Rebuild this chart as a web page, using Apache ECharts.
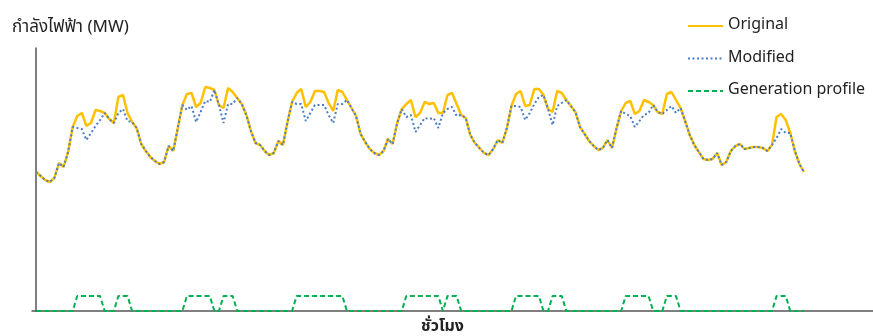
<!DOCTYPE html>
<html>
<head>
<meta charset="utf-8">
<script src="https://cdn.jsdelivr.net/npm/echarts@6/dist/echarts.min.js"></script>
<style>
html,body{margin:0;padding:0;background:#fff;}
#chart{width:873px;height:336px;}
</style>
</head>
<body>
<div id="chart"></div>
<script>
// Hour index (one week, hourly)
const hours = Array.from({length: 169}, (_, i) => i);

// Original load (MW, arbitrary scale)
const original = [
139,135,131,129,133,148,144,159,184,195,198,185,188,201,200,198,192,188,214,216,198,189,183,167,
160,154,150,147,149,165,160,183,206,217,218,204,208,224,223,221,206,203,223,219,213,207,196,180,
168,166,160,156,158,170,166,189,209,218,222,204,209,220,220,219,208,200,221,219,211,203,195,177,
169,162,158,156,160,172,167,188,202,207,211,194,198,209,207,208,198,198,216,218,207,196,193,176,
168,163,158,156,162,171,168,183,205,217,220,205,206,222,222,216,202,199,220,218,211,205,199,184,
177,170,165,161,163,171,163,183,200,208,210,197,200,211,209,206,199,197,217,219,211,203,190,176,
166,159,152,151,152,158,146,149,160,165,167,162,163,164,164,163,160,166,194,197,191,178,160,147,
139];

// Modified load
const modified = [
139,135,131,129,133,148,144,159,184,183,182,171,178,185,191,198,192,188,198,202,190,189,183,167,
160,154,150,147,149,165,160,183,206,201,205,189,199,210,209,221,206,188,207,207,213,207,196,180,
168,166,160,156,158,170,166,189,209,207,207,190,198,206,206,206,196,188,207,207,211,203,195,177,
169,162,158,156,160,172,167,188,202,194,196,179,186,193,192,193,183,198,202,204,195,196,193,176,
168,163,158,156,162,171,168,183,205,205,204,191,198,207,214,216,202,186,205,208,211,205,199,184,
177,170,165,161,163,171,163,183,200,197,195,184,190,196,198,206,199,197,201,205,198,203,190,176,
166,159,152,151,152,158,146,149,160,165,167,162,163,164,164,163,160,166,173,182,178,178,160,147,
139];

// Generation profile
const generation = [
0,0,0,0,0,0,0,0,0,15,15,15,15,15,15,0,0,0,15,15,15,0,0,0,
0,0,0,0,0,0,0,0,0,15,15,15,15,15,15,0,0,15,15,15,0,0,0,0,
0,0,0,0,0,0,0,0,0,15,15,15,15,15,15,15,15,15,15,15,0,0,0,0,
0,0,0,0,0,0,0,0,0,15,15,15,15,15,15,15,15,0,15,15,15,0,0,0,
0,0,0,0,0,0,0,0,0,15,15,15,15,15,15,0,0,15,15,15,0,0,0,0,
0,0,0,0,0,0,0,0,0,15,15,15,15,15,15,0,0,0,15,15,15,0,0,0,
0,0,0,0,0,0,0,0,0,0,0,0,0,0,0,0,0,0,15,15,15,0,0,0,
0];

const seriesNames = ['Original', 'Modified', 'Generation profile'];
const yName = 'กำลังไฟฟ้า (MW)';
const xName = 'ชั่วโมง';

const toPairs = arr => hours.map((h, i) => [h, arr[i]]);
const FONT = '"Noto Sans Thai", "Noto Sans", "Leelawadee UI", Tahoma, sans-serif';

const chart = echarts.init(document.getElementById('chart'), null, {renderer: 'canvas'});
chart.setOption({
  animation: false,
  backgroundColor: '#ffffff',
  textStyle: {fontFamily: FONT},
  grid: {left: 32, right: 0, top: 48, bottom: 25, containLabel: false, outerBoundsMode: 'none'},
  legend: {
    orient: 'vertical',
    left: 687,
    top: 18,
    padding: 0,
    itemWidth: 35,
    itemHeight: 14,
    itemGap: 16.5,
    itemStyle: {opacity: 0},
    textStyle: {fontSize: 16, color: '#222', fontFamily: FONT, lineHeight: 16},
    data: seriesNames
  },
  xAxis: {
    type: 'value',
    min: -0.9,
    max: 183.1,
    name: xName,
    nameLocation: 'middle',
    nameGap: 9,
    nameTextStyle: {fontSize: 16, color: '#222', fontWeight: 'bold', verticalAlign: 'top', padding: [0, 20, 0, 0], fontFamily: FONT},
    axisLine: {show: true, lineStyle: {color: '#555', width: 1.5}},
    axisTick: {show: false},
    axisLabel: {show: false},
    splitLine: {show: false}
  },
  yAxis: {
    type: 'value',
    min: 0,
    max: 263,
    name: yName,
    nameLocation: 'end',
    nameGap: 11,
    nameTextStyle: {fontSize: 17, color: '#222', align: 'left', verticalAlign: 'bottom', padding: [0, 0, 0, -24], fontFamily: FONT},
    axisLine: {show: true, lineStyle: {color: '#555', width: 1.5}},
    axisTick: {show: false},
    axisLabel: {show: false},
    splitLine: {show: false}
  },
  series: [
    {
      name: seriesNames[0], type: 'line', data: toPairs(original),
      symbol: 'none', lineStyle: {color: '#FFC000', width: 2.5}, itemStyle: {color: '#FFC000'}, z: 2
    },
    {
      name: seriesNames[1], type: 'line', data: toPairs(modified),
      symbol: 'none', lineStyle: {color: '#4A7BC8', width: 2, type: [2, 2.5]}, itemStyle: {color: '#4A7BC8'}, z: 3
    },
    {
      name: seriesNames[2], type: 'line', data: toPairs(generation),
      symbol: 'none', lineStyle: {color: '#00B050', width: 2, type: [5, 3]}, itemStyle: {color: '#00B050'}, z: 4
    }
  ]
});
</script>
</body>
</html>
